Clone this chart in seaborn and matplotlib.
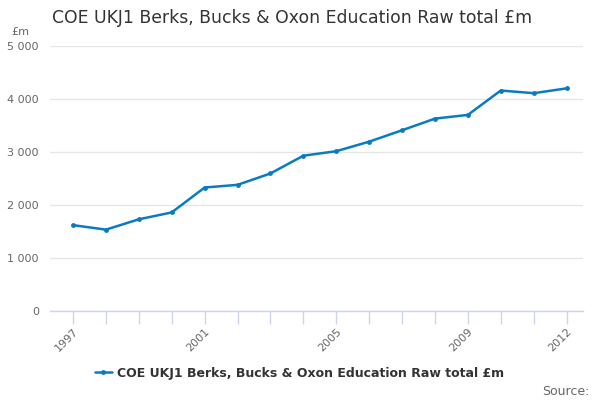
import numpy as np
import pandas as pd
import seaborn as sns
import matplotlib.pyplot as plt
from matplotlib.ticker import FuncFormatter

years = list(range(1997, 2013))
values = [1620, 1535, 1730, 1860, 2330, 2380, 2595, 2930,
          3015, 3195, 3410, 3630, 3700, 4160, 4110, 4200]
label = "COE UKJ1 Berks, Bucks & Oxon Education Raw total £m"
tick_years = [1997, 2001, 2005, 2009, 2012]

df = pd.DataFrame({"year": years, "value": values})

sns.set_theme(style="white")
plt.rcParams['font.family'] = ['DejaVu Sans']

line_col = "#0b7bc1"
axis_col = "#ccd6eb"

fig = plt.figure(figsize=(6, 4), dpi=100)
ax = fig.add_axes([0.0833, 0.2225, 0.8884, 0.6625])

sns.lineplot(data=df, x="year", y="value", ax=ax, color=line_col,
             linewidth=1.8, marker="o", markersize=3.5, markeredgewidth=0,
             label=label)

ax.set_ylim(0, 5000)
ax.set_xlim(1996.3, 2012.5)
ax.set_yticks(np.arange(0, 5001, 1000))
ax.yaxis.set_major_formatter(FuncFormatter(lambda v, p: f"{int(v):,}".replace(",", " ")))
ax.grid(axis="y", color="#e6e6e6", linewidth=1)
ax.grid(axis="x", visible=False)
for s in ["top", "right", "left"]:
    ax.spines[s].set_visible(False)
ax.spines["bottom"].set_color(axis_col)
ax.spines["bottom"].set_linewidth(1)

ax.set_xticks(years)
ax.set_xticklabels([str(y) if y in tick_years else "" for y in years],
                   rotation=45, ha="right", rotation_mode="anchor")
ax.tick_params(axis="x", bottom=True, direction="out", length=9, width=1,
               color=axis_col, labelcolor="#666666", labelsize=8, pad=2)
ax.tick_params(axis="y", left=False, length=0, labelsize=8, labelcolor="#666666", pad=8)
ax.set_xlabel("")
ax.set_ylabel("")

fig.text(0.087, 0.955, "COE UKJ1 Berks, Bucks & Oxon Education Raw total £m",
         fontsize=12.4, color="#333333", va="center", ha="left")
fig.text(0.018, 0.92, "£m", fontsize=8, color="#666666", va="center", ha="left")

leg = ax.legend(loc="center", bbox_to_anchor=(0.468, -0.235), frameon=False,
                fontsize=9, handlelength=1.4, handletextpad=0.4)
for t in leg.get_texts():
    t.set_fontweight("bold")
    t.set_color("#333333")

fig.text(0.982, 0.022, "Source:", fontsize=9, color="#666666", ha="right", va="center")

fig.savefig("out.png", dpi=100)
